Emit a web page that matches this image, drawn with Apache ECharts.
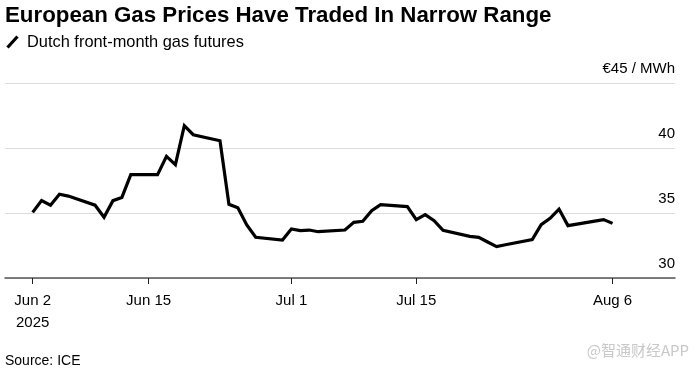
<!DOCTYPE html>
<html><head><meta charset="utf-8">
<script src="https://cdn.jsdelivr.net/npm/echarts@6/dist/echarts.min.js"></script>
<style>html,body{margin:0;padding:0;background:#fff}#c{width:699px;height:371px}</style>
</head><body><div id="c"></div>
<script>
// Trading days, counted as calendar days from Jun 2 2025
const dates = ['Jun 2','Jun 3','Jun 4','Jun 5','Jun 6','Jun 9','Jun 10','Jun 11','Jun 12','Jun 13',
  'Jun 16','Jun 17','Jun 18','Jun 19','Jun 20','Jun 23','Jun 24','Jun 25','Jun 26','Jun 27',
  'Jun 30','Jul 1','Jul 2','Jul 3','Jul 4','Jul 7','Jul 8','Jul 9','Jul 10','Jul 11',
  'Jul 14','Jul 15','Jul 16','Jul 17','Jul 18','Jul 21','Jul 22','Jul 23','Jul 24','Jul 25',
  'Jul 28','Jul 29','Jul 30','Jul 31','Aug 1','Aug 4','Aug 5','Aug 6'];
const dayIndex = [0,1,2,3,4,7,8,9,10,11,
  14,15,16,17,18,21,22,23,24,25,
  28,29,30,31,32,35,36,37,38,39,
  42,43,44,45,46,49,50,51,52,53,
  56,57,58,59,60,63,64,65];
const prices = [35.05,35.95,35.6,36.45,36.3,35.6,34.67,35.95,36.2,37.95,
  37.95,39.36,38.72,41.72,41.02,40.56,35.67,35.4,34.08,33.13,
  32.92,33.77,33.64,33.69,33.56,33.69,34.28,34.36,35.18,35.64,
  35.49,34.49,34.87,34.41,33.66,33.2,33.13,32.77,32.41,32.56,
  32.95,34.1,34.59,35.3,34.03,34.38,34.49,34.2];
const xTickDays = [0,13,29,43,65];
const xTickLabels = ['Jun 2\n2025','Jun 15','Jul 1','Jul 15','Aug 6'];
const yTicks = [30,35,40,45];
const yUnitLabel = '€45 / MWh';

const chart = echarts.init(document.getElementById('c'), null, {renderer:'canvas'});
const FONT = "'Liberation Sans', Arial, sans-serif";
const seriesData = dayIndex.map((d,i)=>[d, prices[i]]);

chart.setOption({
  animation:false,
  backgroundColor:'#fff',
  textStyle:{fontFamily:FONT},
  grid:{left:5,right:24,top:83,bottom:93,containLabel:false,outerBoundsMode:'none'},
  xAxis:{
    type:'value', min:-3.1, max:72,
    axisLine:{show:true,onZero:false,lineStyle:{color:'#555',width:1.5}},
    axisTick:{show:true,customValues:xTickDays,length:6,lineStyle:{color:'#222',width:1}},
    axisLabel:{show:true,customValues:xTickDays,margin:12,fontSize:15,lineHeight:22,color:'#000',fontFamily:FONT,
      formatter:function(v){const i=xTickDays.indexOf(v);return i>=0?xTickLabels[i]:'';}},
    splitLine:{show:false}
  },
  yAxis:{
    type:'value', position:'right', min:yTicks[0], max:yTicks[yTicks.length-1], interval:5,
    axisLine:{show:false}, axisTick:{show:false},
    axisLabel:{inside:true,margin:0,fontSize:15,lineHeight:15,verticalAlign:'bottom',padding:[0,0,7,0],color:'#000',fontFamily:FONT,
      formatter:function(v){return v===45?yUnitLabel:String(v);}},
    splitLine:{show:true,lineStyle:{color:'#dcdcdc',width:1}}
  },
  series:[{
    type:'line', data:seriesData, showSymbol:false, symbol:'none',
    lineStyle:{color:'#000',width:3.2,join:'miter'}, z:5
  }],
  graphic:[
    {type:'text',left:5,top:5,style:{text:'European Gas Prices Have Traded In Narrow Range',font:"bold 22.3px "+FONT,fill:'#000'}},
    {type:'line',shape:{x1:7.5,y1:47.5,x2:17.5,y2:36.5},style:{stroke:'#000',lineWidth:3.2}},
    {type:'text',left:27,top:34,style:{text:'Dutch front-month gas futures',font:"16.4px "+FONT,fill:'#000'}},
    {type:'text',left:5,top:354,style:{text:'Source: ICE',font:"14px "+FONT,fill:'#000'}},
    {type:'text',right:10,top:343,style:{text:'@智通财经APP',font:"15px 'Noto Sans CJK SC', sans-serif",fill:'#c8c8c8'}}
  ]
});
</script></body></html>
